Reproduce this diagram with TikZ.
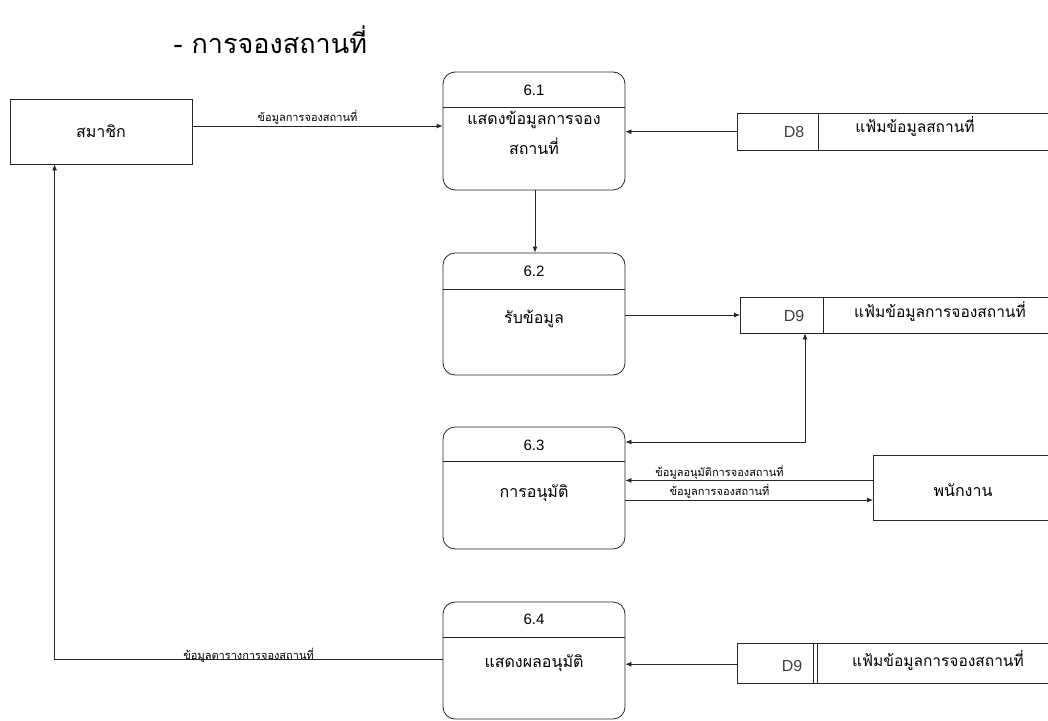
\documentclass[tikz,border=0pt]{standalone}
\usepackage{fontspec}
\setmainfont[Script=Thai]{Loma}
\newfontfamily\latinfont{Liberation Sans}
\usetikzlibrary{arrows.meta}
\tikzset{
  ln/.style={draw=black!85, line width=0.8pt},
  arr/.style={ln, -{Latex[length=6pt,width=5pt]}},
  arrboth/.style={ln, {Latex[length=6pt,width=5pt]}-{Latex[length=6pt,width=5pt]}},
  extbox/.style={ln, rectangle, inner sep=0pt, font=\fontsize{16}{18}\selectfont},
  procbox/.style={ln, rectangle, rounded corners=12pt, minimum width=182pt, inner sep=0pt},
  proctext/.style={align=center, font=\fontsize{16}{30}\selectfont},
  procnum/.style={font=\latinfont\fontsize{15}{18}\selectfont},
  storebox/.style={rectangle, inner sep=0pt, minimum width=311pt, minimum height=37pt, anchor=north west},
  storetext/.style={font=\fontsize{15.5}{18}\selectfont},
  storeid/.style={font=\latinfont\fontsize{16}{18}\selectfont, text=black!75},
  flowlbl/.style={font=\fontsize{11}{13}\selectfont, inner sep=1pt}
}
\begin{document}
\begin{tikzpicture}[x=1pt,y=-1pt]
\useasboundingbox (0,0) rectangle (1048,720);

% title
\node[anchor=west, font=\fontsize{27}{30}\selectfont] (title) at (170,40) {- การจองสถานที่};

% external entities
\node[extbox, minimum width=182pt, minimum height=65pt] (mem) at (101,131.5) {สมาชิก};
\node[extbox, minimum width=190pt, minimum height=65pt, anchor=north west] (stf) at (873,455) {};
\node[font=\fontsize{16}{18}\selectfont] (stftxt) at (963,490) {พนักงาน};

% processes
\node[procbox, minimum height=118pt] (p1) at (534,131) {};
\draw[ln] ([yshift=-36pt]p1.north west) -- ([yshift=-36pt]p1.north east);
\node[procnum] (p1n) at (534,90) {6.1};
\node[proctext] (p1t) at (534,133) {แสดงข้อมูลการจอง\\สถานที่};

\node[procbox, minimum height=122pt] (p2) at (534,314) {};
\draw[ln] ([yshift=-37pt]p2.north west) -- ([yshift=-37pt]p2.north east);
\node[procnum] (p2n) at (534,271) {6.2};
\node[proctext] (p2t) at (534,319) {รับข้อมูล};

\node[procbox, minimum height=122pt] (p3) at (534,488) {};
\draw[ln] ([yshift=-35pt]p3.north west) -- ([yshift=-35pt]p3.north east);
\node[procnum] (p3n) at (534,445) {6.3};
\node[proctext] (p3t) at (534,493) {การอนุมัติ};

\node[procbox, minimum height=117pt] (p4) at (534,660.5) {};
\draw[ln] ([yshift=-36pt]p4.north west) -- ([yshift=-36pt]p4.north east);
\node[procnum] (p4n) at (534,619) {6.4};
\node[proctext] (p4t) at (534,663) {แสดงผลอนุมัติ};

% data stores
\node[storebox] (d8) at (737,113) {};
\draw[ln] (d8.north east) -- (d8.north west) -- (d8.south west) -- (d8.south east);
\draw[ln] ([xshift=81pt]d8.north west) -- ([xshift=81pt]d8.south west);
\node[storeid] (d8id) at (794,132) {D8};
\node[storetext] (d8t) at (915,127) {แฟ้มข้อมูลสถานที่};

\node[storebox, minimum height=36pt] (d9a) at (740,297) {};
\draw[ln] (d9a.north east) -- (d9a.north west) -- (d9a.south west) -- (d9a.south east);
\draw[ln] ([xshift=83pt]d9a.north west) -- ([xshift=83pt]d9a.south west);
\node[storeid] (d9aid) at (794,316) {D9};
\node[storetext] (d9at) at (940,312) {แฟ้มข้อมูลการจองสถานที่};

\node[storebox, minimum height=40pt] (d9b) at (737,643) {};
\draw[ln] (d9b.north east) -- (d9b.north west) -- (d9b.south west) -- (d9b.south east);
\draw[ln] ([xshift=76pt]d9b.north west) -- ([xshift=76pt]d9b.south west);
\draw[ln] ([xshift=80pt]d9b.north west) -- ([xshift=80pt]d9b.south west);
\node[storeid] (d9bid) at (792,666) {D9};
\node[storetext] (d9bt) at (938,661) {แฟ้มข้อมูลการจองสถานที่};

% flows
\draw[arr] ([yshift=5.5pt]mem.east) -- ([yshift=5.5pt]mem.east -| p1.west)
  node[flowlbl, above, pos=0.46] (l1) {ข้อมูลการจองสถานที่};
\draw[arr] (d8.west) -- (d8.west -| p1.east);
\draw[arr] ([xshift=1pt]p1.south) -- ([xshift=1pt]p2.north);
\draw[arr] ([yshift=-1pt]p2.east) -- ([yshift=-1pt]p2.east -| d9a.west);
\draw[arrboth] ([xshift=65pt]d9a.south west) |- ([yshift=46pt]p3.east);
\draw[arr] ([yshift=7.5pt]stf.west) -- ([yshift=7.5pt]stf.west -| p3.east)
  node[flowlbl, above, pos=0.62] (l2) {ข้อมูลอนุมัติการจองสถานที่};
\draw[arr] ([yshift=-12pt]p3.east) -- ([yshift=-12pt]p3.east -| stf.west)
  node[flowlbl, above, pos=0.38] (l3) {ข้อมูลการจองสถานที่};
\draw[arr] ([yshift=-1pt]d9b.west) -- ([yshift=-1pt]d9b.west -| p4.east);
\draw[arr] ([yshift=1pt]p4.west) -| ([xshift=45pt]mem.south west)
  node[flowlbl, pos=0.25, yshift=4pt] (l4) {ข้อมูลตารางการจองสถานที่};
\end{tikzpicture}
\end{document}
